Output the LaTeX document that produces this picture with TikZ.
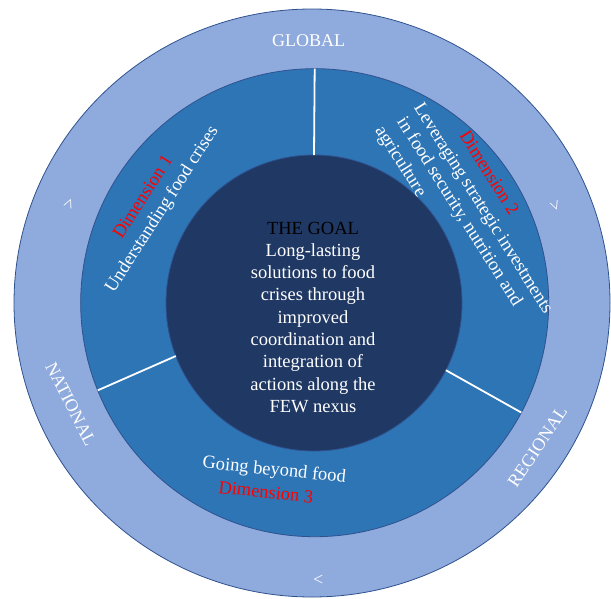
\documentclass[tikz,border=0pt]{standalone}
\usepackage{fontspec}
\setmainfont{Liberation Serif}
\usetikzlibrary{shapes.geometric}
\definecolor{ringL}{HTML}{8FAADC}
\definecolor{ringM}{HTML}{2E75B6}
\definecolor{ringI}{HTML}{203864}
\definecolor{edgeblue}{HTML}{2F528F}
\definecolor{dimred}{HTML}{FF0000}
\begin{document}
\begin{tikzpicture}[x=1pt,y=-1pt,
  ring/.style={draw=edgeblue, line width=0.8pt, inner sep=0pt, outer sep=0pt},
  divider/.style={draw=white, line width=1.8pt},
  txt/.style={inner sep=0pt, text=white, font=\fontsize{18.5}{22.3}\selectfont},
  lvl/.style={inner sep=0pt, text=white, font=\fontsize{18}{21}\selectfont},
  dimlbl/.style={inner sep=0pt, text=dimred, font=\fontsize{18.5}{22.3}\selectfont},
  chev/.style={inner sep=0pt, text=white, font=\fontsize{18}{21}\selectfont}]
\useasboundingbox (0,0) rectangle (611,598);
% rings
\node[ring, ellipse, fill=ringL, minimum width=596pt, minimum height=588pt] (outer) at (312,303) {};
\node[ring, circle, fill=ringM, minimum size=468pt] (mid) at (314.7,302.7) {};
\node[ring, circle, fill=ringI, minimum size=296pt] (inner) at (314,303) {};
% dividers
\draw[divider] (mid.90) -- (inner.90);
\draw[divider] (mid.202) -- (inner.201);
\draw[divider] (mid.332) -- (inner.333);
% level labels
\node[lvl] (global) at (308.6,41) {GLOBAL};
\node[lvl, rotate=-63] (national) at (70.8,404.2) {NATIONAL};
\node[lvl, rotate=56] (regional) at (537.5,446.7) {REGIONAL};
% chevrons
\node[chev] (chevB) at (318.3,580) {<};
\node[chev, rotate=-113] (chevL) at (68.3,202.7) {<};
\node[chev, rotate=111] (chevR) at (556,206) {<};
% dimension 1
\node[txt, rotate=57.4, align=center] (dim1) at (153.3,203.7) {\textcolor{dimred}{Dimension 1}\\Understanding food crises};
% dimension 2
\node[dimlbl, rotate=-57.7] (dim2) at (489.5,172.5) {Dimension 2};
\node[txt, rotate=-57.7] (d2a) at (482.5,209) {Leveraging strategic investments};
\node[txt, rotate=-57.7] (d2b) at (459,212) {in food security, nutrition and};
\node[txt, rotate=-57.7] (d2c) at (400,161.7) {agriculture};
% dimension 3
\node[txt, rotate=-6] (d3a) at (274.2,470.8) {Going beyond food};
\node[dimlbl, rotate=-6] (d3b) at (266,492) {Dimension 3};
% goal
\node[txt, align=center] (goal) at (313,317.3) {\textcolor{black}{THE GOAL}\\Long-lasting\\solutions to food\\crises through\\improved\\coordination and\\integration of\\actions along the\\FEW nexus};
\end{tikzpicture}
\end{document}
